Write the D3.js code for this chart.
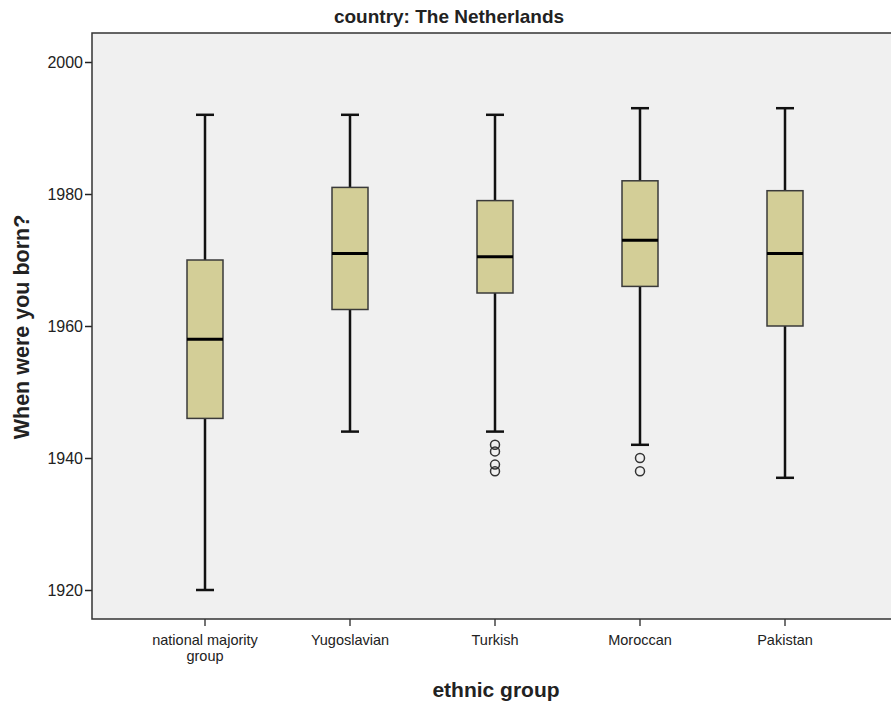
<!DOCTYPE html>
<html>
<head>
<meta charset="utf-8">
<script src="https://cdn.jsdelivr.net/npm/d3@7/dist/d3.min.js"></script>
<style>
  html, body { margin: 0; padding: 0; background: #ffffff; }
  svg { display: block; }
  text { font-family: Arial, "Liberation Sans", sans-serif; fill: #222; }
</style>
</head>
<body>
<svg id="chart" width="891" height="709"></svg>
<script>
// Birth-year distribution by ethnic group (country: The Netherlands)
const categories = ["national majority group", "Yugoslavian", "Turkish", "Moroccan", "Pakistan"];
const whiskerLow  = [1920, 1944, 1944, 1942, 1937];
const q1          = [1946, 1962.5, 1965, 1966, 1960];
const median      = [1958, 1971, 1970.5, 1973, 1971];
const q3          = [1970, 1981, 1979, 1982, 1980.5];
const whiskerHigh = [1992, 1992, 1992, 1993, 1993];
const outliers    = [[], [], [1942, 1941, 1939, 1938], [1940, 1938], []];
const yTicks = [1920, 1940, 1960, 1980, 2000];

const svg = d3.select("#chart");
const plot = { left: 92, top: 33, right: 1015, bottom: 619 };

const y = d3.scaleLinear().domain([1920, 2000]).range([590, 62]);
const x = d3.scaleBand().domain(categories).range([132.5, 857.5]).padding(0);

// plot background
svg.append("rect")
  .attr("x", plot.left).attr("y", plot.top)
  .attr("width", plot.right - plot.left).attr("height", plot.bottom - plot.top)
  .attr("fill", "#f0f0f0");

// y axis
const yAxis = svg.append("g")
  .attr("transform", `translate(${plot.left},0)`)
  .call(d3.axisLeft(y).tickValues(yTicks).tickFormat(d3.format("d")).tickSize(7).tickPadding(2));
yAxis.select(".domain").remove();
yAxis.selectAll(".tick line").attr("stroke", "#222").attr("stroke-width", 1.5);
yAxis.selectAll(".tick text").style("font-size", "16px").attr("fill", "#222")
  .attr("font-family", "Arial, 'Liberation Sans', sans-serif");

// x axis
const xAxis = svg.append("g")
  .attr("transform", `translate(0,${plot.bottom})`)
  .call(d3.axisBottom(x).tickSize(7).tickPadding(6).tickFormat(""));
xAxis.select(".domain").remove();
xAxis.selectAll(".tick line").attr("stroke", "#444").attr("stroke-width", 1.5);

// x tick labels (long names wrapped onto two lines)
const labelLines = { "national majority group": ["national majority", "group"] };
categories.forEach(c => {
  const lines = labelLines[c] || [c];
  lines.forEach((l, i) => {
    svg.append("text")
      .attr("x", x(c) + x.bandwidth() / 2)
      .attr("y", 645 + i * 16)
      .attr("text-anchor", "middle")
      .style("font-size", "14.5px")
      .text(l);
  });
});

// frame (left, top, bottom)
svg.append("path")
  .attr("d", `M${plot.right},${plot.top}H${plot.left}V${plot.bottom}H${plot.right}`)
  .attr("fill", "none").attr("stroke", "#333").attr("stroke-width", 1.5);

// boxes
const boxW = 36, capW = 18;
const data = categories.map((c, i) => ({
  c, lo: whiskerLow[i], q1: q1[i], med: median[i], q3: q3[i], hi: whiskerHigh[i], out: outliers[i]
}));

const g = svg.append("g");
data.forEach(d => {
  const cx = x(d.c) + x.bandwidth() / 2;
  // whiskers
  g.append("line").attr("x1", cx).attr("x2", cx).attr("y1", y(d.hi)).attr("y2", y(d.q3))
    .attr("stroke", "#111").attr("stroke-width", 2.5);
  g.append("line").attr("x1", cx).attr("x2", cx).attr("y1", y(d.q1)).attr("y2", y(d.lo))
    .attr("stroke", "#111").attr("stroke-width", 2.5);
  g.append("line").attr("x1", cx - capW / 2).attr("x2", cx + capW / 2).attr("y1", y(d.hi)).attr("y2", y(d.hi))
    .attr("stroke", "#111").attr("stroke-width", 2.5);
  g.append("line").attr("x1", cx - capW / 2).attr("x2", cx + capW / 2).attr("y1", y(d.lo)).attr("y2", y(d.lo))
    .attr("stroke", "#111").attr("stroke-width", 2.5);
  // box
  g.append("rect").attr("x", cx - boxW / 2).attr("y", y(d.q3))
    .attr("width", boxW).attr("height", y(d.q1) - y(d.q3))
    .attr("fill", "#d3ce97").attr("stroke", "#3a3a3a").attr("stroke-width", 1.5);
  // median
  g.append("line").attr("x1", cx - boxW / 2).attr("x2", cx + boxW / 2).attr("y1", y(d.med)).attr("y2", y(d.med))
    .attr("stroke", "#000").attr("stroke-width", 3);
  // outliers
  d.out.forEach(v => {
    g.append("circle").attr("cx", cx).attr("cy", y(v)).attr("r", 4.5)
      .attr("fill", "none").attr("stroke", "#333").attr("stroke-width", 1.5);
  });
});

// titles
svg.append("text").attr("x", 449).attr("y", 23).attr("text-anchor", "middle")
  .style("font-size", "19px").style("font-weight", "bold").text("country: The Netherlands");
svg.append("text").attr("x", 496).attr("y", 697).attr("text-anchor", "middle")
  .style("font-size", "21px").style("font-weight", "bold").text("ethnic group");
svg.append("text").attr("transform", "translate(29,327) rotate(-90)").attr("text-anchor", "middle")
  .style("font-size", "21.5px").style("font-weight", "bold").text("When were you born?");
</script>
</body>
</html>
